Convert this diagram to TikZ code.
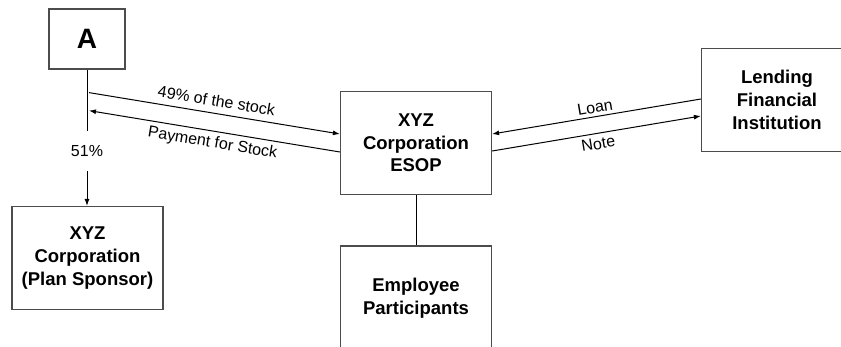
\documentclass[tikz,border=0pt]{standalone}
\usepackage{fontspec}
\setmainfont{Liberation Sans}
\usetikzlibrary{calc,arrows.meta}

\begin{document}
\begin{tikzpicture}[x=1pt,y=-1pt,
    party/.style={draw=black!70,line width=1.2pt,minimum width=151pt,minimum height=103pt,
      inner sep=0pt,align=center,font=\bfseries\fontsize{18.5}{22.7}\selectfont},
    flow/.style={line width=1pt,-{Latex[length=7pt,width=5pt]}},
    tag/.style={font=\fontsize{16}{18}\selectfont,sloped}]
  \useasboundingbox (0,0) rectangle (841,346);
  \clip (0,0) rectangle (841,346);

  % the parties
  \node[party,minimum width=76pt,minimum height=60pt,font=\bfseries\fontsize{28}{32}\selectfont] (A) at (87,39) {A};
  \node[party] (sponsor) at (87.5,258) {XYZ\\Corporation\\(Plan Sponsor)};
  \node[party] (esop) at (416,143) {XYZ\\Corporation\\ESOP};
  \node[party,minimum height=104pt] (staff) at (416,298) {Employee\\Participants};
  \node[party] (lender) at (777,100) {Lending\\Financial\\Institution};

  % ownership split
  \draw[flow] (A.south) -- node[pos=0.6,fill=white,minimum height=40pt,inner xsep=1pt,font=\fontsize{16}{18}\selectfont] {51\%} (A.south |- sponsor.north);

  \coordinate (sell) at ($(A.south)+(2,23)$);
  \coordinate (paid) at ($(A.south)+(2,41)$);
  \coordinate (esopin) at ($(esop.west)+(0,-9)$);
  \coordinate (esopout) at ($(esop.west)+(0,9)$);
  \draw[flow] (sell) -- node[tag,above=3pt] {49\% of the stock} (esopin);
  \draw[flow] (esopout) -- node[tag,below=1pt] {Payment for Stock} (paid);

  % the loan
  \coordinate (loan) at ($(lender.west)+(0,-1)$);
  \coordinate (note) at ($(lender.west)+(0,16)$);
  \draw[flow] (loan) -- node[tag,above=0pt] {Loan} ($(esop.east)+(0,-9)$);
  \draw[flow] ($(esop.east)+(0,8)$) -- node[tag,below=1pt] {Note} (note);

  \draw[line width=1pt] (esop) -- (staff);
\end{tikzpicture}
\end{document}
